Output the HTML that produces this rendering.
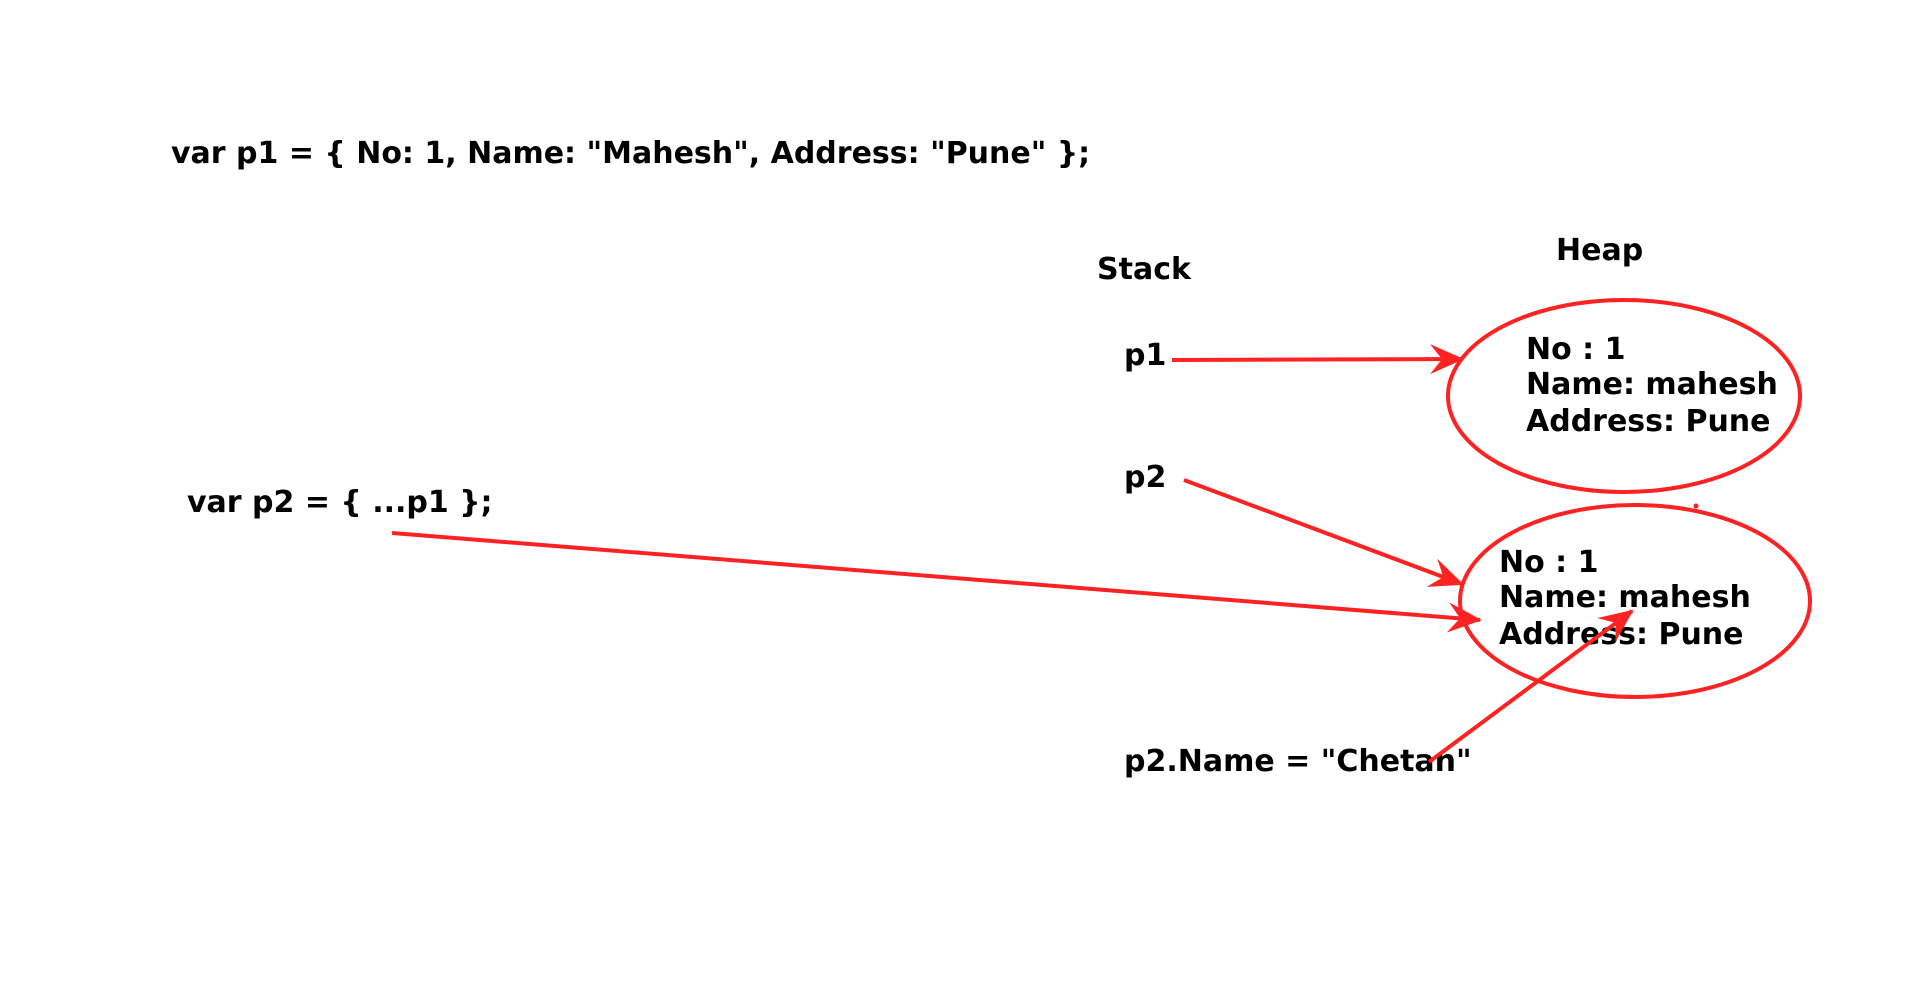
<!DOCTYPE html>
<html><head><style>
html,body{margin:0;padding:0;background:#fff;}
svg text{font-family:"DejaVu Sans","Liberation Sans",sans-serif;font-weight:bold;fill:#000;}
</style></head><body>
<svg width="1920" height="991" viewBox="0 0 1920 991" xmlns="http://www.w3.org/2000/svg">
<defs>
<marker id="a" markerWidth="34" markerHeight="30" refX="32" refY="15" orient="auto" markerUnits="userSpaceOnUse" viewBox="0 0 34 30">
<path d="M0,0 L34,15 L0,30 L12,15 Z" fill="#f22"/>
</marker>
</defs>
<g font-size="30">
<text x="171" y="163">var p1 = { No: 1, Name: "Mahesh", Address: "Pune" };</text>
<text x="187" y="512">var p2 = { ...p1 };</text>
<text x="1097" y="279">Stack</text>
<text x="1556" y="260">Heap</text>
<text x="1124" y="365">p1</text>
<text x="1124" y="487">p2</text>
<text x="1124" y="771">p2.Name = "Chetan"</text>
<text x="1526" y="359">No : 1</text>
<text x="1526" y="394">Name: mahesh</text>
<text x="1526" y="431">Address: Pune</text>
<text x="1499" y="572">No : 1</text>
<text x="1499" y="607">Name: mahesh</text>
<text x="1499" y="644">Address: Pune</text>
</g>
<g fill="none" stroke="#f22" stroke-width="4">
<ellipse cx="1624" cy="396" rx="176" ry="96"/>
<ellipse cx="1635" cy="601" rx="175" ry="96"/>
<line x1="1172" y1="360" x2="1462" y2="359" marker-end="url(#a)"/>
<line x1="1184" y1="480" x2="1462" y2="584" marker-end="url(#a)"/>
<line x1="392" y1="533" x2="1480" y2="620" marker-end="url(#a)"/>
<line x1="1429" y1="762" x2="1632" y2="611" marker-end="url(#a)"/>
</g>
<circle cx="1696" cy="506" r="2.5" fill="#f22"/>
</svg>
</body></html>
